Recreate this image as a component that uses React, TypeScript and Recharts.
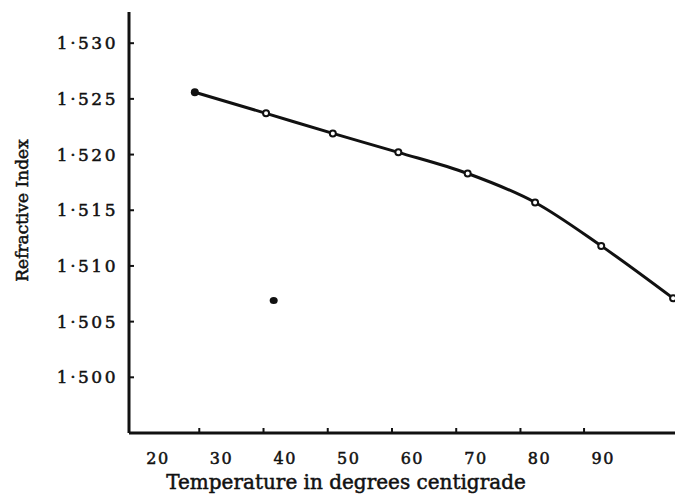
import React from 'react';
import { ComposedChart, Line, Scatter, XAxis, YAxis, Label } from 'recharts';

// readings (temperature °C, refractive index)
const temperatures = [25.8, 37.0, 47.5, 57.8, 68.7, 79.3, 89.7, 101.0];
const refractiveIndex = [1.5256, 1.5237, 1.5219, 1.5202, 1.5183, 1.5157, 1.5118, 1.5071];

// the lone dot sitting below the curve
const strayTemps = [38.2];
const strayIndex = [1.5069];

const xTickLabels = [20, 30, 40, 50, 60, 70, 80, 90];
// small unlabelled tick marks on the x axis (they don't line up with the labels)
const xTickMarks = [26.5, 36.6, 46.7, 56.8, 66.9, 77.0, 87.0];
const yTickLabels = [1.5, 1.505, 1.51, 1.515, 1.52, 1.525, 1.53];

const curve = temperatures.map((t, i) => ({ t, n: refractiveIndex[i] }));
const stray = strayTemps.map((t, i) => ({ t, n: strayIndex[i] }));
const xTicks = [...xTickLabels, ...xTickMarks].sort((a, b) => a - b);

const FONT = '"DejaVu Serif", "Liberation Serif", serif';
const INK = '#111';

const fmtIndex = (v: number) => '1·' + Math.round((v - 1) * 1000).toString();

const YTick = (props: any) => {
  const { x, y, payload } = props;
  return (
    <g>
      <line x1={x} y1={y} x2={x + 5} y2={y} stroke={INK} strokeWidth={2} />
      <text
        x={x - 11}
        y={y + 6}
        textAnchor="end"
        fontFamily={FONT}
        fontSize={17}
        letterSpacing={2.5}
        fill={INK}
        stroke={INK}
        strokeWidth={0.5}
      >
        {fmtIndex(payload.value)}
      </text>
    </g>
  );
};

const XTick = (props: any) => {
  const { x, y, payload } = props;
  if (!xTickLabels.includes(payload.value)) {
    return <line x1={x} y1={y} x2={x} y2={y - 5} stroke={INK} strokeWidth={2} />;
  }
  return (
    <text
      x={x}
      y={y + 31}
      textAnchor="middle"
      fontFamily={FONT}
      fontSize={16}
      letterSpacing={1.5}
      fill={INK}
      stroke={INK}
      strokeWidth={0.5}
    >
      {payload.value}
    </text>
  );
};

const CurveDot = (props: any) => {
  const { cx, cy, index } = props;
  if (cx == null || cy == null) return null;
  if (index === 0) return <circle key={index} cx={cx} cy={cy} r={4} fill={INK} />;
  return <circle key={index} cx={cx} cy={cy} r={3} fill="#fff" stroke={INK} strokeWidth={2} />;
};

const StrayShape = (props: any) => <ellipse cx={props.cx} cy={props.cy} rx={4} ry={3.5} fill={INK} />;

export default function App() {
  return (
    <div style={{ position: 'absolute', left: 0, top: 0, background: '#fff' }}>
      <ComposedChart width={675} height={494} margin={{ top: 12, right: 0, bottom: 0, left: 0 }}>
        <XAxis
          type="number"
          dataKey="t"
          domain={[15.45, 101.3]}
          allowDataOverflow
          ticks={xTicks}
          interval={0}
          axisLine={{ stroke: INK, strokeWidth: 3 }}
          tickLine={false}
          tickSize={0}
          tickMargin={0}
          height={61}
          tick={<XTick />}
        >
          <Label
            content={({ viewBox }: any) => (
              <text
                x={viewBox.x + viewBox.width / 2 - 56}
                y={viewBox.y + 56}
                textAnchor="middle"
                fontFamily={FONT}
                fontSize={20}
                fill={INK}
                stroke={INK}
                strokeWidth={0.5}
              >
                Temperature in degrees centigrade
              </text>
            )}
          />
        </XAxis>
        <YAxis
          type="number"
          domain={[1.495, 1.5328]}
          allowDataOverflow
          ticks={yTickLabels}
          interval={0}
          width={129}
          axisLine={{ stroke: INK, strokeWidth: 3 }}
          tickLine={false}
          tickSize={0}
          tickMargin={0}
          tick={<YTick />}
        >
          <Label
            content={({ viewBox }: any) => {
              const cx = viewBox.x + 22;
              const cy = viewBox.y + viewBox.height / 2 - 12;
              return (
                <text
                  x={cx}
                  y={cy}
                  transform={`rotate(-90, ${cx}, ${cy})`}
                  textAnchor="middle"
                  dominantBaseline="central"
                  fontFamily={FONT}
                  fontSize={17}
                  fill={INK}
                  stroke={INK}
                  strokeWidth={0.5}
                >
                  Refractive Index
                </text>
              );
            }}
          />
        </YAxis>
        <Line
          data={curve}
          dataKey="n"
          type="monotone"
          stroke={INK}
          strokeWidth={3}
          dot={<CurveDot />}
          activeDot={false}
          isAnimationActive={false}
        />
        <Scatter data={stray} dataKey="n" shape={<StrayShape />} isAnimationActive={false} />
      </ComposedChart>
    </div>
  );
}
